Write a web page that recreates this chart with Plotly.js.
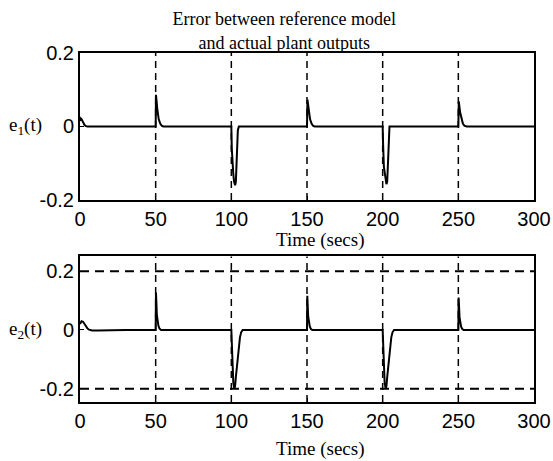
<!DOCTYPE html>
<html>
<head>
<meta charset="utf-8">
<script src="https://cdn.plot.ly/plotly-3.0.1.min.js"></script>
<style>html,body{margin:0;padding:0;background:#fff;}#chart{width:553px;height:461px;}</style>
</head>
<body>
<div id="chart"></div>
<script>
// ---- data ----
const switchTimes = [50, 100, 150, 200, 250];
const boundsE2 = [0.2, -0.2];
const xTicks = [0, 50, 100, 150, 200, 250, 300];
const xTickText = ['0', '50', '100', '150', '200', '250', '300'];
const yTicks1 = [-0.2, 0, 0.2];
const yTickText1 = ['-0.2', '0', '0.2'];
const yTicks2 = [-0.2, 0, 0.2];
const yTickText2 = ['-0.2', '0', '0.2'];

const timeE1 = [0,0.5,1,2,3,4,5,
  50,50.2,50.6,51,51.5,52,53,54,55,
  100,100.3,100.8,101.3,101.8,102.5,103,103.5,104,104.3,105,
  150,150.3,150.7,151.2,152,153,154,155,
  200,200.3,200.8,201.5,202,202.5,203,203.5,204,204.5,
  250,250.3,250.7,251.2,252,253,254,255.5,
  300];
const e1 = [0.015,0.022,0.02,0.01,0.004,0.001,0,
  0,0.086,0.07,0.05,0.035,0.02,0.008,0.002,0,
  0,-0.06,-0.11,-0.13,-0.15,-0.16,-0.15,-0.11,-0.05,-0.01,0,
  0,0.073,0.06,0.04,0.02,0.008,0.002,0,
  0,-0.05,-0.11,-0.13,-0.15,-0.157,-0.15,-0.1,-0.03,0,
  0,0.068,0.055,0.038,0.02,0.008,0.002,0,
  0];

const timeE2 = [0,0.5,1,2,3,4,5,6,8,12,20,30,
  50,50.2,50.5,50.8,51.2,51.8,52.5,53.5,
  100,100.3,100.8,101.3,102,102.5,103,103.7,104.4,105,105.7,106.5,107.5,
  150,150.2,150.5,150.8,151.2,151.8,152.5,153.5,
  200,200.3,200.8,201.3,202,202.5,203,203.7,204.4,205,205.7,206.5,207.5,
  250,250.2,250.5,250.8,251.2,251.8,252.5,253.5,
  300];
const e2 = [0.02,0.028,0.03,0.028,0.02,0.012,0.005,0.001,-0.002,-0.002,-0.001,0,
  0,0.127,0.09,0.05,0.03,0.015,0.005,0,
  0,-0.06,-0.14,-0.18,-0.2,-0.19,-0.16,-0.12,-0.08,-0.05,-0.025,-0.008,0,
  0,0.116,0.08,0.045,0.027,0.013,0.004,0,
  0,-0.06,-0.14,-0.18,-0.2,-0.19,-0.16,-0.12,-0.08,-0.05,-0.025,-0.008,0,
  0,0.11,0.077,0.043,0.025,0.012,0.004,0,
  0];

// ---- styling ----
const SANS = 'Liberation Sans, Arial, sans-serif';
const SERIF = 'Liberation Serif, Times New Roman, serif';

const traces = [
  {x: timeE1, y: e1, xaxis: 'x', yaxis: 'y', mode: 'lines',
   line: {color: '#000', width: 2}, hoverinfo: 'skip'},
  {x: timeE2, y: e2, xaxis: 'x2', yaxis: 'y2', mode: 'lines',
   line: {color: '#000', width: 2}, hoverinfo: 'skip'}
];

const shapes = [];
switchTimes.forEach(t => {
  shapes.push({type: 'line', xref: 'x', yref: 'y domain', x0: t, x1: t, y0: 0, y1: 1,
    line: {color: '#000', width: 1.5, dash: '7px,5px'}});
  shapes.push({type: 'line', xref: 'x2', yref: 'y2 domain', x0: t, x1: t, y0: 0, y1: 1,
    line: {color: '#000', width: 1.5, dash: '7px,5px'}});
});
boundsE2.forEach(b => {
  shapes.push({type: 'line', xref: 'x2 domain', yref: 'y2', x0: 0, x1: 1, y0: b, y1: b,
    line: {color: '#000', width: 2, dash: '9px,6px'}});
});

const axBase = {
  showline: true, mirror: true, linecolor: '#000', linewidth: 2,
  ticks: 'inside', ticklen: 4, tickcolor: '#000', tickwidth: 1,
  showgrid: false, zeroline: false,
  tickfont: {family: SANS, size: 20, color: '#000'}
};

const layout = {
  width: 553, height: 461,
  margin: {l: 80, r: 19, t: 53, b: 59},
  paper_bgcolor: '#fff', plot_bgcolor: '#fff',
  showlegend: false,
  title: {
    text: 'Error between reference model<br>and actual plant outputs',
    font: {family: SERIF, size: 18, color: '#000'},
    xref: 'paper', x: 0.45, xanchor: 'center',
    yref: 'container', y: 0.945, yanchor: 'top'
  },
  xaxis: Object.assign({}, axBase, {domain: [0, 1], range: [0, 300], anchor: 'y',
    tickvals: xTicks, ticktext: xTickText}),
  yaxis: Object.assign({}, axBase, {domain: [0.579, 1], range: [-0.2, 0.2], anchor: 'x',
    tickvals: yTicks1, ticktext: yTickText1}),
  xaxis2: Object.assign({}, axBase, {domain: [0, 1], range: [0, 300], anchor: 'y2',
    tickvals: xTicks, ticktext: xTickText}),
  yaxis2: Object.assign({}, axBase, {domain: [0, 0.417], range: [-0.245, 0.25], anchor: 'x2',
    tickvals: yTicks2, ticktext: yTickText2}),
  shapes: shapes,
  annotations: [
    {text: 'Time (secs)', xref: 'paper', yref: 'paper', x: 0.529, y: 0.464,
     xanchor: 'center', yanchor: 'middle', showarrow: false,
     font: {family: SERIF, size: 19, color: '#000'}},
    {text: 'Time (secs)', xref: 'paper', yref: 'paper', x: 0.529, y: -0.135,
     xanchor: 'center', yanchor: 'middle', showarrow: false,
     font: {family: SERIF, size: 19, color: '#000'}},
    {text: 'e<sub>1</sub>(t)', xref: 'paper', yref: 'y', x: -0.121, y: 0,
     xanchor: 'center', yanchor: 'middle', showarrow: false,
     font: {family: SERIF, size: 19, color: '#000'}},
    {text: 'e<sub>2</sub>(t)', xref: 'paper', yref: 'y2', x: -0.121, y: 0,
     xanchor: 'center', yanchor: 'middle', showarrow: false,
     font: {family: SERIF, size: 19, color: '#000'}}
  ]
};

Plotly.newPlot('chart', traces, layout, {staticPlot: true, displayModeBar: false});
</script>
</body>
</html>
